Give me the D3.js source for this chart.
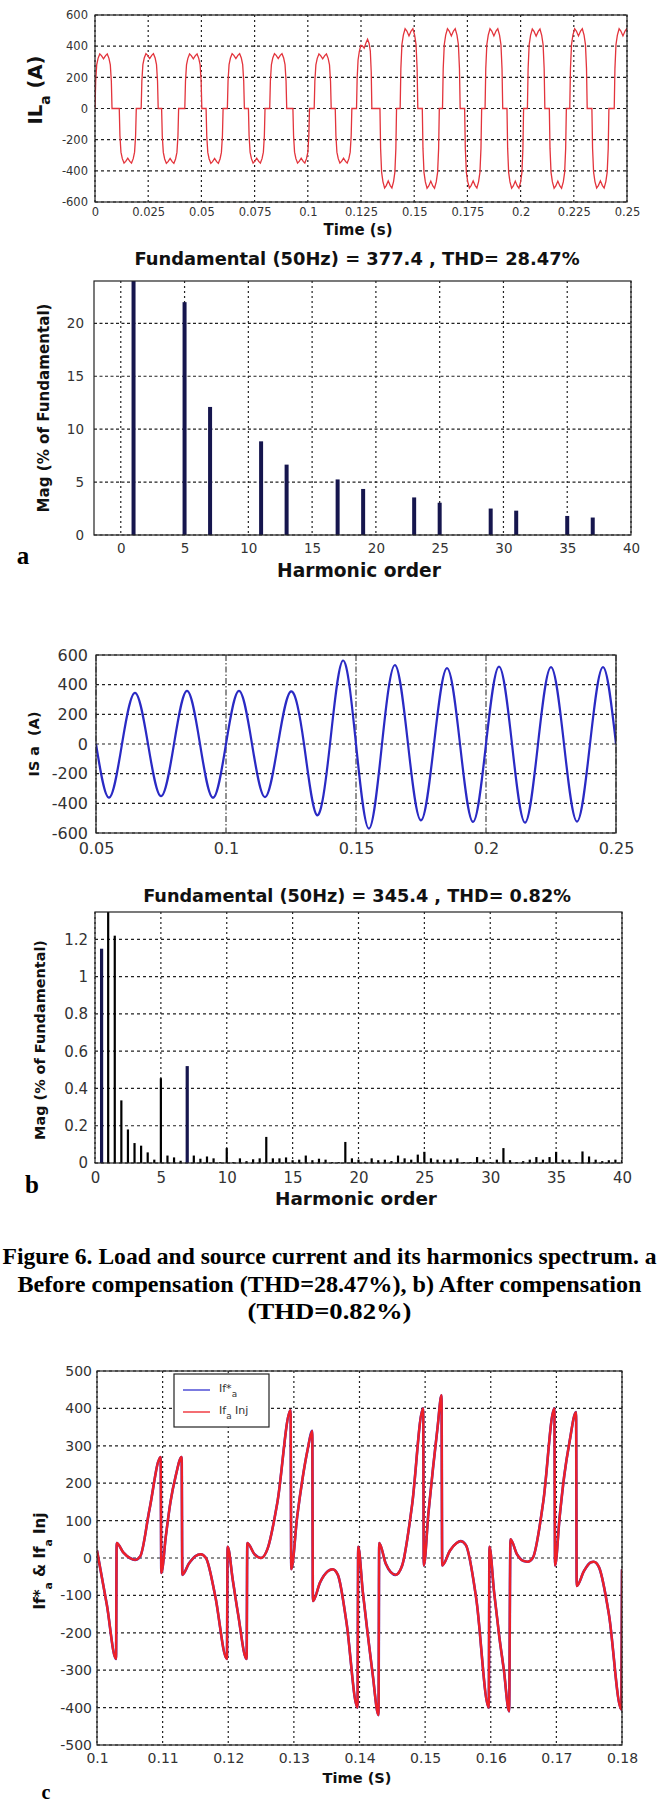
<!DOCTYPE html>
<html><head><meta charset="utf-8">
<script src="https://cdn.jsdelivr.net/npm/d3@7"></script>
<style>body{margin:0;background:#fff}svg{display:block}</style>
</head><body>
<svg id="chart" width="659" height="1802"></svg>
<script>
// ---------------- DATA ----------------
// (a) load current IL_a : pulses of a 6-pulse rectifier current
const ilPulseStart = [0.0000,0.0114,0.0217,0.0313,0.0422,0.0522,0.0622,0.0721,0.0821,0.0930,0.1030,0.1129,0.1229,0.1339,0.1434,0.1538,0.1633,0.1737,0.1833,0.1936,0.2032,0.2135,0.2231,0.2335,0.2440];
const ilPulseWidth = [0.0080,0.0080,0.0080,0.0080,0.0080,0.0080,0.0080,0.0078,0.0080,0.0078,0.0080,0.0078,0.0072,0.0078,0.0083,0.0080,0.0083,0.0080,0.0083,0.0078,0.0082,0.0080,0.0082,0.0080,0.0082];
const ilPeakStart  = [350,-350,352,-352,350,-352,352,-350,352,-350,350,-350,380,-510,512,-512,512,-510,512,-512,510,-512,512,-510,512];
const ilPeakEnd    = [350,-350,352,-352,350,-352,352,-350,352,-350,350,-350,470,-510,512,-512,512,-510,512,-512,510,-512,512,-510,512];
const ilShapeU = [0,0.04,0.10,0.18,0.28,0.38,0.50,0.62,0.72,0.82,0.90,0.96,1];
const ilShapeF = [0,0.50,0.80,0.92,1.00,0.97,0.91,0.97,1.00,0.92,0.80,0.50,0];
const p1XTicks = [0,0.025,0.05,0.075,0.1,0.125,0.15,0.175,0.2,0.225,0.25];
const p1XLabels = ["0","0.025","0.05","0.075","0.1","0.125","0.15","0.175","0.2","0.225","0.25"];
const p1YTicks = [-600,-400,-200,0,200,400,600];
const p1YLabels = ["-600","-400","-200","0","200","400","600"];

// (a) spectrum
const h1Order = [1,5,7,11,13,17,19,23,25,29,31,35,37];
const h1Mag   = [100,22.0,12.1,8.85,6.65,5.25,4.35,3.55,3.05,2.5,2.3,1.8,1.65];
const p2XTicks = [0,5,10,15,20,25,30,35,40];
const p2XLabels = ["0","5","10","15","20","25","30","35","40"];
const p2YTicks = [0,5,10,15,20];
const p2YLabels = ["0","5","10","15","20"];

// (b) source current IS_a : zero crossings and peaks
const isZeroT = [0.05,0.06,0.07,0.08,0.09,0.10,0.11,0.12,0.13,0.14,0.15,0.16,0.17,0.18,0.19,0.20,0.21,0.22,0.23,0.24,0.25];
const isPeakT = [0.055,0.065,0.075,0.085,0.095,0.105,0.115,0.125,0.135,0.145,0.155,0.165,0.175,0.185,0.195,0.205,0.215,0.225,0.235,0.245];
const isPeakV = [-362,345,-352,358,-362,358,-358,355,-480,563,-570,532,-515,512,-525,522,-530,518,-523,518];
const p3XTicks = [0.05,0.1,0.15,0.2,0.25];
const p3XLabels = ["0.05","0.1","0.15","0.2","0.25"];
const p3YTicks = [-600,-400,-200,0,200,400,600];
const p3YLabels = ["-600","-400","-200","0","200","400","600"];

// (b) spectrum
const h2Order = [0.5,1,1.5,2,2.5,3,3.5,4,4.5,5,5.5,6,6.5,7,7.5,8,8.5,9,9.5,10,10.5,11,11.5,12,12.5,13,13.5,14,14.5,15,15.5,16,16.5,17,17.5,18,18.5,19,19.5,20,20.5,21,21.5,22,22.5,23,23.5,24,24.5,25,25.5,26,26.5,27,27.5,28,28.5,29,29.5,30,30.5,31,31.5,32,32.5,33,33.5,34,34.5,35,35.5,36,36.5,37,37.5,38,38.5,39,39.5,40];
const h2Mag = [1.15,100,1.22,0.336,0.18,0.107,0.093,0.057,0.018,0.455,
  0.04,0.03,0.012,0.52,0.04,0.023,0.035,0.025,0.005,0.08,
  0.005,0.025,0.01,0.02,0.025,0.14,0.025,0.025,0.03,0.015,
  0.018,0.04,0.015,0.023,0.018,0.005,0.005,0.113,0.025,0.018,
  0.007,0.025,0.015,0.018,0.01,0.04,0.025,0.018,0.045,0.06,
  0.025,0.018,0.018,0.018,0.025,0.005,0.005,0.032,0.018,0.005,
  0.018,0.08,0.015,0.005,0.01,0.018,0.032,0.018,0.032,0.06,
  0.018,0.018,0.005,0.062,0.035,0.018,0.01,0.015,0.018,0.015];
const h2Navy = [0.5,7];
const p4XTicks = [0,5,10,15,20,25,30,35,40];
const p4XLabels = ["0","5","10","15","20","25","30","35","40"];
const p4YTicks = [0,0.2,0.4,0.6,0.8,1,1.2];
const p4YLabels = ["0","0.2","0.4","0.6","0.8","1","1.2"];

// (c) filter current If*_a and If_a Inj
const ifT = [0.1000,0.1015,0.1029, 0.1030,0.1040,0.1050,0.1058,0.1066,0.1080,0.1097,
  0.1098,0.1105,0.1112,0.1120,0.1129, 0.1130,0.1140,0.1150,0.1158,0.1166,0.1180,0.1198,
  0.1199,0.1207,0.1215,0.1228, 0.1229,0.1240,0.1250,0.1260,0.1275,0.1295,
  0.1296,0.1305,0.1313,0.1321,0.1328, 0.1329,0.1340,0.1352,0.1359,0.1367,0.1380,0.1397,
  0.1398,0.1405,0.1413,0.1420,0.1429, 0.1430,0.1440,0.1455,0.1465,0.1480,0.1497,
  0.1498,0.1505,0.1512,0.1519,0.1525, 0.1526,0.1538,0.1548,0.1554,0.1562,0.1578,0.1597,
  0.1598,0.1605,0.1613,0.1620,0.1628, 0.1630,0.1640,0.1650,0.1656,0.1664,0.1680,0.1697,
  0.1698,0.1705,0.1712,0.1720,0.1730, 0.1731,0.1742,0.1752,0.1757,0.1765,0.1780,0.1799, 0.1800];
const ifV = [20,-125,-270, 40,15,0,-5,5,130,270,
  -40,60,150,220,270, -45,-15,5,10,0,-100,-270,
  30,-60,-150,-270, 40,10,0,25,150,395,
  -30,110,210,290,340, -115,-65,-35,-30,-45,-170,-400,
  30,-90,-210,-310,-420, 40,-15,-45,-20,140,400,
  -20,120,240,350,435, -20,20,40,45,35,-110,-400,
  30,-90,-210,-300,-410, 50,10,-8,-10,0,150,400,
  -20,110,220,310,390, -75,-35,-12,-10,-25,-150,-405, -30];
const p5XTicks = [0.1,0.11,0.12,0.13,0.14,0.15,0.16,0.17,0.18];
const p5XLabels = ["0.1","0.11","0.12","0.13","0.14","0.15","0.16","0.17","0.18"];
const p5YTicks = [-500,-400,-300,-200,-100,0,100,200,300,400,500];
const p5YLabels = ["-500","-400","-300","-200","-100","0","100","200","300","400","500"];

const captionLines = ["Figure 6. Load and source current and its harmonics spectrum. a",
  "Before compensation (THD=28.47%), b) After compensation", "(THD=0.82%)"];

// ---------------- DRAWING ----------------
const svg = d3.select('#chart');
const FONT = '"DejaVu Sans", Verdana, sans-serif';
const SERIF = '"Liberation Serif", "Times New Roman", serif';

function fit(t, w){ const L=t.node().getComputedTextLength(); const fs=parseFloat(t.attr('font-size')); t.attr('font-size',(fs*w/L).toFixed(2)); }

function label(parts, cx, cy, w, rot){
  const t = svg.append('text').attr('x',cx).attr('y',cy).attr('dy','0.36em')
    .attr('text-anchor','middle').attr('font-family',FONT).attr('font-weight','bold')
    .attr('font-size',14).attr('fill','#111').style('white-space','pre');
  parts.forEach(p=>{
    const s=t.append('tspan').text(p[0]);
    if(p[1]) s.attr('font-size','0.72em').attr('baseline-shift','sub');
  });
  if(rot) t.attr('transform',`rotate(-90,${cx},${cy})`);
  fit(t,w);
  return t;
}

function panel(o){
  const x=d3.scaleLinear().domain(o.xd).range([o.x0,o.x1]);
  const y=d3.scaleLinear().domain(o.yd).range([o.y1,o.y0]);
  const g=svg.append('g');
  svg.append('clipPath').attr('id','clip'+o.id).append('rect')
    .attr('x',o.x0).attr('y',o.y0).attr('width',o.x1-o.x0).attr('height',o.y1-o.y0);
  g.append('g').selectAll('line').data(o.yt).join('line')
    .attr('x1',o.x0).attr('x2',o.x1).attr('y1',d=>y(d)).attr('y2',d=>y(d))
    .attr('stroke','#222').attr('stroke-width',1.2).attr('stroke-dasharray',o.hdash||'3,3');
  g.append('g').selectAll('line').data(o.xt).join('line')
    .attr('x1',d=>x(d)).attr('x2',d=>x(d)).attr('y1',o.y0).attr('y2',o.y1)
    .attr('stroke','#222').attr('stroke-width',o.vw||1.2).attr('stroke-dasharray',o.vdash||'2,3');
  const plot=g.append('g').attr('clip-path',`url(#clip${o.id})`);
  const ya=g.append('g').attr('transform',`translate(${o.x0},0)`)
    .call(d3.axisLeft(y).tickValues(o.yt).tickFormat((d,i)=>o.ytl[i]).tickSize(0).tickPadding(o.ypad));
  ya.select('.domain').remove();
  ya.selectAll('text').attr('font-family',FONT).attr('font-size',o.fs).attr('fill','#333');
  const xa=g.append('g').attr('transform',`translate(0,${o.y1})`)
    .call(d3.axisBottom(x).tickValues(o.xt).tickFormat((d,i)=>o.xtl[i]).tickSize(0));
  xa.select('.domain').remove();
  xa.selectAll('text').attr('font-family',FONT).attr('font-size',o.fs).attr('fill','#333')
    .attr('y',o.xoff).attr('dy','0.36em');
  return {x,y,g,plot,box:()=>g.append('rect').attr('x',o.x0).attr('y',o.y0)
    .attr('width',o.x1-o.x0).attr('height',o.y1-o.y0).attr('fill','none')
    .attr('stroke','#222').attr('stroke-width',1.2)};
}

// ----- Panel 1 : IL_a -----
{
  const P=panel({id:1,x0:95,x1:627,y0:15,y1:202,xd:[0,0.25],yd:[-600,600],
    xt:p1XTicks,xtl:p1XLabels,yt:p1YTicks,ytl:p1YLabels,fs:11.5,ypad:7,xoff:10});
  const pts=[];
  ilPulseStart.forEach((t0,i)=>ilShapeU.forEach((u,j)=>{
    const a=ilPeakStart[i]+(ilPeakEnd[i]-ilPeakStart[i])*u;
    pts.push([t0+u*ilPulseWidth[i], a*ilShapeF[j]]);
  }));
  P.plot.append('path').datum(pts).attr('fill','none').attr('stroke','#e3343c').attr('stroke-width',1.3)
    .attr('d',d3.line().x(d=>P.x(d[0])).y(d=>P.y(d[1])));
  P.box();
  label([['IL'],['a',1],[' (A)']],35,90,69,true);
  label([['Time (s)']],358,230,69);
}

// ----- Panel 2 : spectrum a -----
{
  label([['Fundamental (50Hz) = 377.4 , THD= 28.47%']],357,259,445);
  const P=panel({id:2,x0:94,x1:631,y0:281,y1:535,xd:[-2.1,40],yd:[0,24],
    xt:p2XTicks,xtl:p2XLabels,yt:p2YTicks,ytl:p2YLabels,fs:13.5,ypad:10,xoff:13,hdash:'3,2.5'});
  P.plot.selectAll('rect').data(h1Order).join('rect')
    .attr('x',d=>P.x(d)-2).attr('width',4)
    .attr('y',(d,i)=>P.y(h1Mag[i])).attr('height',(d,i)=>P.y(0)-P.y(h1Mag[i]))
    .attr('fill','#16164e');
  P.box();
  label([['Mag (% of Fundamental)']],44,408,209,true);
  label([['Harmonic order']],359,570,164);
  svg.append('text').attr('x',23).attr('y',564).attr('text-anchor','middle')
    .attr('font-family',SERIF).attr('font-weight','bold').attr('font-size',25).text('a');
}

// ----- Panel 3 : IS_a -----
{
  const P=panel({id:3,x0:96,x1:616,y0:655,y1:833,xd:[0.05,0.25],yd:[-600,600],
    xt:p3XTicks,xtl:p3XLabels,yt:p3YTicks,ytl:p3YLabels,fs:16,ypad:8,xoff:15,vdash:'6,2,1.5,2',vw:1});
  const pts=isZeroT.map(t=>[t,0]).concat(isPeakT.map((t,i)=>[t,isPeakV[i]])).sort((a,b)=>a[0]-b[0]);
  P.plot.append('path').datum(pts).attr('fill','none').attr('stroke','#2a2ac4').attr('stroke-width',2.2)
    .attr('d',d3.line().curve(d3.curveNatural).x(d=>P.x(d[0])).y(d=>P.y(d[1])));
  P.box();
  label([['IS a  (A)']],34,744,65,true);
}

// ----- Panel 4 : spectrum b -----
{
  label([['Fundamental (50Hz) = 345.4 , THD= 0.82%']],357,896,428);
  const P=panel({id:4,x0:95,x1:622,y0:912,y1:1163,xd:[0,40],yd:[0,1.347],
    xt:p4XTicks,xtl:p4XLabels,yt:p4YTicks,ytl:p4YLabels,fs:15,ypad:7,xoff:15});
  P.plot.selectAll('rect').data(h2Order).join('rect')
    .attr('x',d=>P.x(d)-(h2Navy.includes(d)?1.6:1.1)).attr('width',d=>h2Navy.includes(d)?3.2:2.2)
    .attr('y',(d,i)=>P.y(h2Mag[i])).attr('height',(d,i)=>P.y(0)-P.y(h2Mag[i]))
    .attr('fill',d=>h2Navy.includes(d)?'#16164e':'#000');
  P.box();
  label([['Mag (% of Fundamental)']],40,1040,200,true);
  label([['Harmonic order']],356,1198,162);
  svg.append('text').attr('x',32).attr('y',1193).attr('text-anchor','middle')
    .attr('font-family',SERIF).attr('font-weight','bold').attr('font-size',25).text('b');
}

// ----- Caption -----
[[1264,654],[1292,624],[1319,164]].forEach((p,i)=>{
  svg.append('text').attr('x',329.5).attr('y',p[0]).attr('text-anchor','middle')
    .attr('font-family',SERIF).attr('font-weight','bold').attr('font-size',23)
    .attr('textLength',p[1]).attr('lengthAdjust','spacingAndGlyphs').attr('fill','#000')
    .text(captionLines[i]);
});

// ----- Panel 5 : If -----
{
  const P=panel({id:5,x0:97,x1:622,y0:1371,y1:1745,xd:[0.1,0.18],yd:[-500,500],
    xt:p5XTicks,xtl:p5XLabels,yt:p5YTicks,ytl:p5YLabels,fs:14,ypad:5,xoff:13});
  const pts=ifT.map((t,i)=>[t,ifV[i]]);
  const ln=d3.line().curve(d3.curveMonotoneX).x(d=>P.x(d[0])).y(d=>P.y(d[1]));
  P.plot.append('path').datum(pts).attr('fill','none').attr('stroke','#3434d0').attr('stroke-width',2.6).attr('d',ln);
  P.plot.append('path').datum(pts).attr('fill','none').attr('stroke','#ee2028').attr('stroke-width',2.4).attr('d',ln);
  P.box();
  // legend
  const L=svg.append('g');
  L.append('rect').attr('x',174).attr('y',1374).attr('width',95).attr('height',53)
    .attr('fill','#fff').attr('stroke','#222').attr('stroke-width',1.2);
  [['#3434d0',1390,'If*'],['#ee2028',1412,'If']].forEach((r,i)=>{
    L.append('line').attr('x1',183).attr('x2',210).attr('y1',r[1]).attr('y2',r[1]).attr('stroke',r[0]).attr('stroke-width',1.3);
    const t=L.append('text').attr('x',219).attr('y',r[1]).attr('dy','0.2em').attr('font-family',FONT)
      .attr('font-size',11).attr('fill','#333').style('white-space','pre');
    t.append('tspan').text(r[2]);
    t.append('tspan').text('a').attr('font-size','0.8em').attr('baseline-shift','sub');
    if(i===1) t.append('tspan').text(' Inj');
  });
  label([['If*'],['a',1],[' & If'],['a',1],[' Inj']],40,1561,97,true);
  label([['Time (S)']],357,1778,69);
  svg.append('text').attr('x',46).attr('y',1799).attr('text-anchor','middle')
    .attr('font-family',SERIF).attr('font-weight','bold').attr('font-size',20).text('c');
}
</script>
</body></html>
